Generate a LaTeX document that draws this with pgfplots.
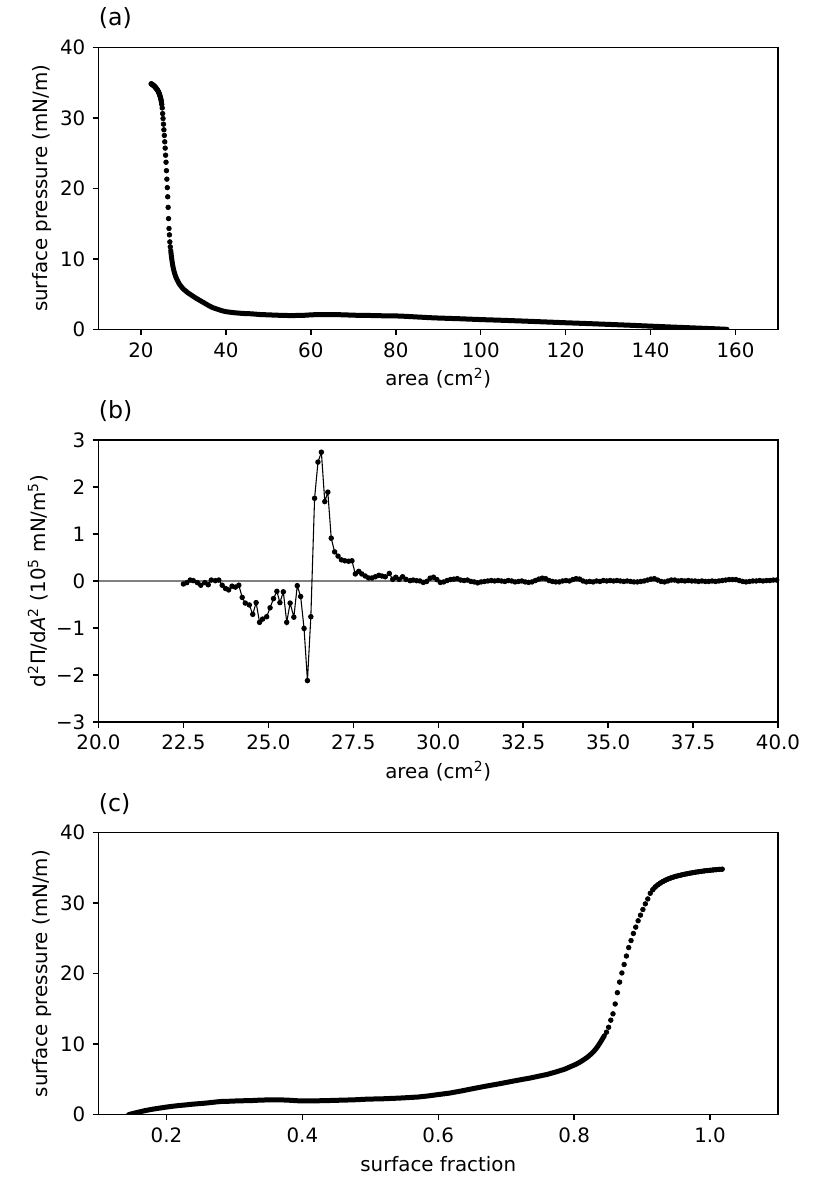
\documentclass[border=0pt]{standalone}
\usepackage{fontspec}
\setmainfont{DejaVu Sans}
\usepackage{pgfplots}
\usepackage{pgfplotstable}
\pgfplotsset{compat=1.18}

\pgfplotstableread{
A P
22.4 34.82
22.5 34.79
22.6 34.75
22.7 34.71
22.8 34.66
22.9 34.62
23.0 34.57
23.1 34.51
23.2 34.45
23.3 34.39
23.4 34.32
23.5 34.25
23.6 34.17
23.7 34.09
23.8 34.00
23.9 33.91
24.0 33.81
24.1 33.70
24.2 33.57
24.3 33.43
24.4 33.26
24.5 33.07
24.6 32.85
24.7 32.60
24.8 32.30
24.9 31.90
}\topA

\pgfplotstableread{
A P
25.0 31.4
25.1 30.6
25.2 29.9
25.3 29.1
25.4 28.3
25.5 27.5
25.6 26.6
25.7 25.7
25.8 24.7
25.9 23.7
26.0 22.5
26.1 21.3
26.2 20.1
26.3 18.8
26.4 17.3
26.5 15.7
26.6 14.3
26.7 13.4
26.8 12.4
26.9 11.7
}\steepA

\pgfplotstableread{
A P
27.0 11.2
27.1 10.7
27.2 10.2
27.3 9.75
27.4 9.35
27.5 9.0
27.6 8.7
27.7 8.45
27.8 8.2
27.9 8.0
28.0 7.8
28.2 7.45
28.4 7.15
28.7 6.8
29.0 6.45
29.5 6.05
30.0 5.7
30.5 5.45
31.0 5.2
31.5 5.0
32.0 4.8
33.0 4.4
34.0 4.05
35.0 3.7
36.0 3.35
37.0 3.05
38.0 2.85
39.0 2.65
40.0 2.5
42.0 2.35
44.0 2.25
46.0 2.2
48.0 2.1
50.0 2.05
52.0 2.0
55.0 1.95
58.0 1.97
60.0 2.05
62.0 2.1
65.0 2.1
68.0 2.05
70.0 2.0
72.0 1.98
75.0 1.95
78.0 1.9
80.0 1.9
82.0 1.85
85.0 1.75
88.0 1.65
90.0 1.6
95.0 1.5
100.0 1.38
105.0 1.28
110.0 1.17
115.0 1.05
120.0 0.93
125.0 0.82
130.0 0.70
135.0 0.58
140.0 0.45
145.0 0.32
150.0 0.2
155.0 0.08
158.0 0.0
}\botA

\pgfplotstableread{
A D
22.50 -0.064
22.60 -0.035
22.70 0.02
22.79 0.007
22.91 -0.035
23.01 -0.09
23.13 -0.035
23.23 -0.08
23.32 0.02
23.44 0.007
23.54 0.02
23.64 -0.09
23.74 -0.16
23.83 -0.19
23.93 -0.11
24.03 -0.13
24.13 -0.09
24.23 -0.35
24.32 -0.47
24.44 -0.51
24.54 -0.71
24.64 -0.46
24.74 -0.88
24.83 -0.81
24.95 -0.76
25.05 -0.57
25.15 -0.375
25.25 -0.22
25.34 -0.46
25.44 -0.23
25.54 -0.88
25.64 -0.47
25.75 -0.77
25.85 -0.10
25.95 -0.33
26.05 -1.01
26.15 -2.12
26.25 -0.76
26.36 1.76
26.46 2.53
26.56 2.74
26.66 1.69
26.75 1.89
26.85 0.91
26.95 0.62
27.05 0.53
27.15 0.45
27.25 0.43
27.36 0.42
27.46 0.43
27.56 0.15
27.66 0.205
27.75 0.15
27.85 0.106
27.95 0.064
28.05 0.064
28.15 0.09
28.25 0.12
28.34 0.106
28.44 0.09
28.56 0.16
28.66 0.035
28.75 0.08
28.85 0.035
28.95 0.09
29.05 0.035
29.17 0.007
29.26 0.02
29.36 0.007
29.46 0.00
29.56 -0.03
29.66 -0.01
29.76 0.06
29.86 0.08
29.96 0.03
30.06 -0.03
30.16 -0.02
30.26 0.01
30.36 0.03
30.46 0.04
30.56 0.05
30.66 0.02
30.76 0.01
30.86 0.02
30.96 -0.01
31.06 -0.02
31.16 -0.04
31.26 -0.02
31.36 -0.01
31.46 0.00
31.56 0.01
31.66 0.00
31.76 0.01
31.86 0.00
31.96 -0.01
32.06 0.01
32.16 0.00
32.26 -0.02
32.36 -0.01
32.46 0.00
32.56 -0.02
32.66 -0.03
32.76 -0.02
32.86 0.01
32.96 0.04
33.06 0.06
33.16 0.05
33.26 0.01
33.36 -0.01
33.46 -0.02
33.56 -0.02
33.66 0.00
33.76 0.01
33.86 0.00
33.96 0.03
34.06 0.05
34.16 0.04
34.26 0.00
34.36 -0.02
34.46 -0.01
34.56 -0.02
34.66 0.00
34.76 -0.01
34.86 0.01
34.96 0.00
35.06 0.01
35.16 0.00
35.26 0.01
35.36 0.00
35.46 -0.01
35.56 0.00
35.66 -0.01
35.76 -0.02
35.86 -0.02
35.96 -0.01
36.06 0.00
36.16 0.02
36.26 0.04
36.36 0.05
36.46 0.02
36.56 -0.01
36.66 -0.02
36.76 0.00
36.86 0.02
36.96 0.02
37.06 0.00
37.16 0.01
37.26 0.00
37.36 0.01
37.46 0.00
37.56 0.00
37.66 -0.01
37.76 0.00
37.86 -0.01
37.96 -0.01
38.06 0.00
38.16 -0.01
38.26 0.00
38.36 0.01
38.46 0.02
38.56 0.03
38.66 0.03
38.76 0.03
38.86 0.01
38.96 -0.01
39.06 -0.02
39.16 -0.01
39.26 0.00
39.36 0.00
39.46 0.01
39.56 0.00
39.66 0.01
39.76 0.01
39.86 0.02
39.96 0.02
40.06 0.01
}\curvB

\newcommand{\fs}{\fontsize{11.9}{14}\selectfont}
\newcommand{\fst}{\fontsize{14.2}{17}\selectfont}

\pgfplotsset{
  panel/.style={
    scale only axis, width=407.7pt, height=169.2pt,
    axis line style={line width=0.9pt},
    tick style={line width=0.9pt, black},
    tick align=outside, major tick length=3.5pt,
    xtick pos=bottom, ytick pos=left,
    /pgf/number format/assume math mode=true,
    tick label style={font=\fs, inner sep=0pt},
    label style={font=\fs, inner sep=0pt},
    title style={font=\fst, inner sep=0pt, at={(axis description cs:0,1)}, anchor=south west, yshift=4.8pt},
    xlabel style={at={(axis description cs:0.5,-0.2)}, anchor=base},
    xticklabel shift=4.2pt, yticklabel shift=4.2pt,
  },
  dots/.style={only marks, mark=*, mark size=1.4pt, black},
  thick curve/.style={black, line width=3pt, line cap=round, line join=round, no marks},
}

\begin{document}
\begin{tikzpicture}
\path[use as bounding box] (0,0) rectangle (493.2pt,714pt);

% (a)
\begin{axis}[panel, at={(59.1pt,685.6pt)}, anchor=north west,
  xmin=10, xmax=170, ymin=0, ymax=40,
  xtick={20,40,60,80,100,120,140,160}, ytick={0,10,20,30,40},
  title={(a)},
  xlabel={area (cm\textsuperscript{2})},
  ylabel={surface pressure (mN/m)},
  ylabel style={at={(axis description cs:-0.0678,0.5)}, anchor=south},
]
\addplot[thick curve] table[x=A,y=P] {\botA};
\addplot[thick curve, line width=2.8pt] table[x=A,y=P] {\topA};
\addplot[dots] table[x=A,y=P] {\topA};
\addplot[dots] table[x=A,y=P] {\steepA};
\end{axis}

% (b)
\begin{axis}[panel, at={(59.1pt,450pt)}, anchor=north west,
  xmin=20, xmax=40, ymin=-3, ymax=3,
  xtick={20,22.5,25,27.5,30,32.5,35,37.5,40},
  xticklabels={20.0,22.5,25.0,27.5,30.0,32.5,35.0,37.5,40.0},
  ytick={-3,-2,-1,0,1,2,3},
  yticklabels={−3,−2,−1,0,1,2,3},
  title={(b)},
  xlabel={area (cm\textsuperscript{2})},
  ylabel={d\textsuperscript{2}Π/d\textit{A}\textsuperscript{2} (10\textsuperscript{5} mN/m\textsuperscript{5})},
  ylabel style={at={(axis description cs:-0.0737,0.5)}, anchor=south},
]
\addplot[gray, line width=1.7pt, forget plot] coordinates {(20,0) (40,0)};
\addplot[black, line width=0.65pt, mark=*, mark size=1.3pt, mark options={solid, fill=black}] table[x=A,y=D] {\curvB};
\end{axis}

% (c)
\begin{axis}[panel, at={(59.1pt,214.4pt)}, anchor=north west,
  xmin=0.1, xmax=1.1, ymin=0, ymax=40,
  xtick={0.2,0.4,0.6,0.8,1.0}, xticklabels={0.2,0.4,0.6,0.8,1.0},
  ytick={0,10,20,30,40},
  title={(c)},
  xlabel={surface fraction},
  ylabel={surface pressure (mN/m)},
  ylabel style={at={(axis description cs:-0.0678,0.5)}, anchor=south},
]
\addplot[thick curve] table[x expr=22.8/\thisrow{A},y=P] {\botA};
\addplot[thick curve, line width=2.8pt] table[x expr=22.8/\thisrow{A},y=P] {\topA};
\addplot[dots] table[x expr=22.8/\thisrow{A},y=P] {\topA};
\addplot[dots] table[x expr=22.8/\thisrow{A},y=P] {\steepA};
\end{axis}
\end{tikzpicture}
\end{document}
